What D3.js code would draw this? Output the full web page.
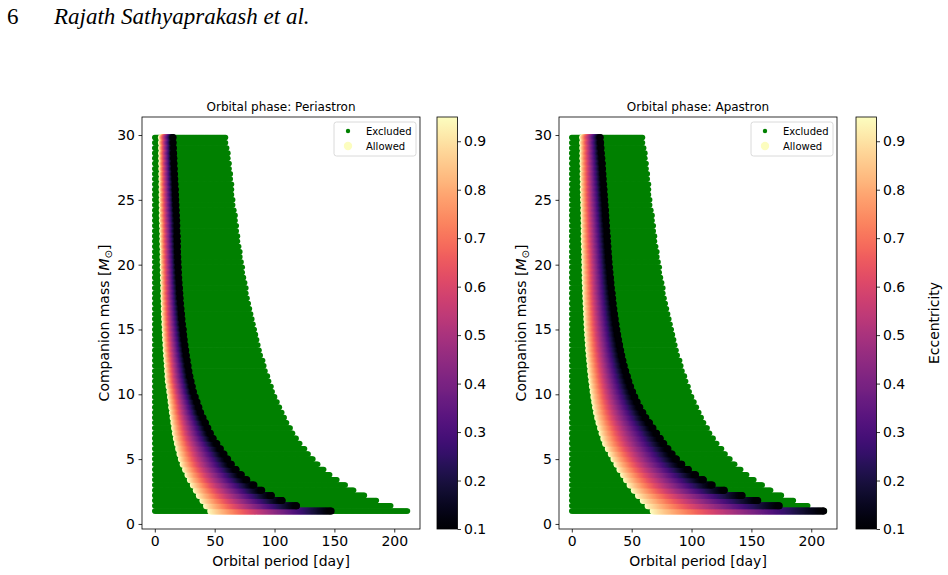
<!DOCTYPE html>
<html><head><meta charset="utf-8">
<script src="https://cdn.jsdelivr.net/npm/d3@7"></script>
<style>
body{margin:0;background:#fff}
svg{display:block}
text{font-family:"DejaVu Sans",sans-serif;fill:#000}
</style>
</head><body>
<svg id="chart" width="948" height="575"></svg>
<script>
// ---------------- data ----------------
const massRows = [1.0,1.4,1.8,2.2,2.6,3.0,3.4,3.8,4.2,4.6,5.0,5.4,5.8,6.2,6.6,7.0,7.4,7.8,8.2,8.6,
  9.0,9.4,9.8,10.2,10.6,11.0,11.4,11.8,12.2,12.6,13.0,13.4,13.8,14.2,14.6,15.0,15.4,15.8,16.2,16.6,
  17.0,17.4,17.8,18.2,18.6,19.0,19.4,19.8,20.2,20.6,21.0,21.4,21.8,22.2,22.6,23.0,23.4,23.8,24.2,24.6,
  25.0,25.4,25.8,26.2,26.6,27.0,27.4,27.8,28.2,28.6,29.0,29.4,29.8];

// longest orbital period (day) of the excluded grid in each mass row (both phases)
const excludedMax = [211,197,185,175,166,159,152,146,141,136,132,128,125,121,118,115,113,110,108,106,
  104,102,100,98,97,95,94,92,91,90,88,87,86,85,84,83,82,81,80,79,
  78,77,76,76,75,74,73,73,72,71,71,70,69,69,68,68,67,67,66,65,
  65,64,64,64,63,63,62,62,61,61,60,59,59];

// periastron: allowed period range per mass row (e = 0.95 at min, 0.1 at max)
const periAllowedMin = [46.7,43.2,40.2,37.2,34.7,32.2,29.7,27.7,25.7,23.7,22.2,21,19.9,18.9,18,17.2,16.5,15.9,15.3,14.7,
  14.1,13.6,13.1,12.5,11.9,11.3,11,10.7,10.4,10.1,9.8,9.5,9.3,9,8.8,8.6,8.4,8.2,8,7.9,
  7.8,7.6,7.5,7.4,7.3,7.2,7.1,7,6.9,6.8,6.8,6.7,6.6,6.6,6.5,6.4,6.3,6.2,6.2,6.1,
  6.1,6,6,5.9,5.9,5.8,5.8,5.7,5.7,5.6,5.6,5.5,5.5];
const periAllowedMax = [147.3,118.3,106.3,97.3,89.3,82.8,76.8,72.3,67.8,63.8,60.8,57.8,54.8,51.8,48.8,46.3,44.3,42.3,40.3,38.3,
  36.8,35.3,33.8,32.3,31.3,30.3,29.3,28.5,27.8,27.1,26.4,25.8,25.2,24.6,24.1,23.6,23.1,22.7,22.3,21.9,
  21.5,21.2,20.9,20.6,20.3,20,19.8,19.6,19.4,19.2,19,18.9,18.8,18.6,18.5,18.4,18.3,18.1,17.9,17.7,
  17.5,17.3,17.1,16.9,16.7,16.5,16.3,16.1,15.9,15.7,15.6,15.4,15.3];

// apastron: allowed period range per mass row
const apoAllowedMin = [68,63.7,59.7,55.7,52.2,48.7,45.7,43.2,40.2,37.7,35.2,33,30.5,28.2,26.7,25.3,24,22.7,21.6,20.6,
  19.8,19.1,18.4,17.8,17.2,16.7,16.2,15.7,15.3,14.9,14.5,14.1,13.8,13.5,13.2,12.9,12.7,12.5,12.3,12.1,
  11.9,11.7,11.5,11.4,11.2,11.1,11,10.9,10.8,10.7,10.6,10.5,10.4,10.3,10.3,10.2,10.2,10.1,10,9.9,
  9.8,9.7,9.6,9.6,9.5,9.4,9.4,9.3,9.2,9.2,9.1,9,9];
const apoAllowedMax = [210.3,173.3,155.3,142.3,127.3,117.3,109.8,103.3,97.3,91.8,87.3,83.8,80.3,76.8,73.8,70.8,67.8,64.8,61.8,59.3,
  56.8,54.6,52.6,50.8,49.1,47.6,46.3,45,43.8,42.7,41.7,40.8,39.9,39.1,38.3,37.6,36.9,36.3,35.7,35.1,
  34.6,34.1,33.6,33.1,32.7,32.3,31.9,31.5,31.1,30.8,30.5,30.2,29.9,29.6,29.3,29,28.7,28.4,28.1,27.8,
  27.5,27.2,26.9,26.6,26.3,26,25.7,25.4,25.1,24.7,24.4,24.1,23.8];

const eccRange = [0.1, 0.95];
const periodTicks = [0, 50, 100, 150, 200];
const massTicks = [0, 5, 10, 15, 20, 25, 30];
const eccTicks = [0.1, 0.2, 0.3, 0.4, 0.5, 0.6, 0.7, 0.8, 0.9];
const panelTitles = ["Orbital phase: Periastron", "Orbital phase: Apastron"];
const legendLabels = ["Excluded", "Allowed"];

// ---------------- drawing ----------------
const svg = d3.select("#chart");
const color = d3.scaleSequential(d3.interpolateMagma).domain(eccRange);
const GREEN = "#008000";

// page header
svg.append("text").attr("x", 7).attr("y", 24)
  .style("font-family", "'Liberation Serif','Times New Roman',serif").style("font-size", "23px")
  .text("6");
svg.append("text").attr("x", 54).attr("y", 24)
  .style("font-family", "'Liberation Serif','Times New Roman',serif").style("font-size", "23px")
  .style("font-style", "italic").text("Rajath Sathyaprakash et al.");

// gradient for colorbars
const defs = svg.append("defs");
const grad = defs.append("linearGradient").attr("id", "magmaGrad")
  .attr("x1", 0).attr("y1", 1).attr("x2", 0).attr("y2", 0);
d3.range(0, 1.0001, 0.02).forEach(t => grad.append("stop")
  .attr("offset", t).attr("stop-color", d3.interpolateMagma(t)));

const yTop = 117, yBot = 529;
const panels = [
  {x0: 142, x1: 420, cb: 437, title: panelTitles[0], lo: periAllowedMin, hi: periAllowedMax, cbLabel: false},
  {x0: 559, x1: 837, cb: 856, title: panelTitles[1], lo: apoAllowedMin, hi: apoAllowedMax, cbLabel: true}
];

panels.forEach(P => {
  const x = d3.scaleLinear().domain([-10.7, 221.5]).range([P.x0, P.x1]);
  const y = d3.scaleLinear().domain([-0.39, 31.39]).range([yBot, yTop]);
  const g = svg.append("g");

  // excluded grid
  const excl = [];
  massRows.forEach((m, i) => {
    d3.range(0, excludedMax[i] + 0.001, 1).forEach(p => excl.push({p, m}));
  });
  g.append("g").selectAll("circle").data(excl).join("circle")
    .attr("cx", d => x(d.p)).attr("cy", d => y(d.m)).attr("r", 2.8)
    .attr("fill", GREEN);

  // allowed grid: eccentricity falls from 0.95 to 0.1 across each row's allowed range
  const allow = [];
  massRows.forEach((m, i) => {
    const lo = P.lo[i], hi = P.hi[i];
    const ps = d3.range(lo, hi, 1).concat([hi]);
    ps.forEach(p => {
      const f = Math.pow((p - lo) / (hi - lo), 0.85);
      allow.push({p, m, e: eccRange[1] - f * (eccRange[1] - eccRange[0])});
    });
  });
  allow.sort((a, b) => b.e - a.e);
  g.append("g").selectAll("circle").data(allow).join("circle")
    .attr("cx", d => x(d.p)).attr("cy", d => y(d.m)).attr("r", 3.5)
    .attr("fill", d => color(d.e));

  // frame
  g.append("rect").attr("x", P.x0).attr("y", yTop).attr("width", P.x1 - P.x0).attr("height", yBot - yTop)
    .attr("fill", "none").attr("stroke", "#000").attr("stroke-width", 0.8);

  // x axis
  const xa = g.append("g").attr("transform", `translate(0,${yBot})`)
    .call(d3.axisBottom(x).tickValues(periodTicks).tickFormat(d3.format("d")).tickSize(3.5).tickPadding(3.5));
  xa.select(".domain").remove();
  xa.selectAll("line").attr("stroke", "#000").attr("stroke-width", 0.8);
  xa.selectAll("text").style("font-size", "14px").style("font-family", "'DejaVu Sans',sans-serif");

  // y axis
  const ya = g.append("g").attr("transform", `translate(${P.x0},0)`)
    .call(d3.axisLeft(y).tickValues(massTicks).tickFormat(d3.format("d")).tickSize(3.5).tickPadding(3.5));
  ya.select(".domain").remove();
  ya.selectAll("line").attr("stroke", "#000").attr("stroke-width", 0.8);
  ya.selectAll("text").style("font-size", "14px").style("font-family", "'DejaVu Sans',sans-serif");

  // labels
  g.append("text").attr("x", (P.x0 + P.x1) / 2).attr("y", 566).attr("text-anchor", "middle")
    .style("font-size", "14px").text("Orbital period [day]");
  const yl = g.append("text").attr("transform", `translate(${P.x0 - 33},${(yTop + yBot) / 2}) rotate(-90)`)
    .attr("text-anchor", "middle").style("font-size", "14px");
  yl.append("tspan").text("Companion mass [");
  yl.append("tspan").style("font-style", "italic").text("M");
  yl.append("tspan").attr("dy", 3).style("font-size", "10px").text("⊙");
  yl.append("tspan").attr("dy", -3).text("]");

  g.append("text").attr("x", (P.x0 + P.x1) / 2).attr("y", 111).attr("text-anchor", "middle")
    .style("font-size", "12px").text(P.title);

  // legend
  const lx = P.x1 - 86, ly = yTop + 5;
  const lg = g.append("g");
  lg.append("rect").attr("x", lx).attr("y", ly).attr("width", 82).attr("height", 34).attr("rx", 2.5)
    .attr("fill", "#fff").attr("fill-opacity", 0.8).attr("stroke", "#d0d0d0").attr("stroke-width", 0.8);
  lg.append("circle").attr("cx", lx + 14).attr("cy", ly + 9).attr("r", 2.2).attr("fill", GREEN);
  lg.append("circle").attr("cx", lx + 14).attr("cy", ly + 24).attr("r", 4.2).attr("fill", color(eccRange[1]));
  legendLabels.forEach((t, i) => lg.append("text").attr("x", lx + 32).attr("y", ly + 12.5 + i * 15)
    .style("font-size", "10px").text(t));

  // colorbar
  const cy = d3.scaleLinear().domain(eccRange).range([yBot, yTop]);
  const cw = 20.5;
  g.append("rect").attr("x", P.cb).attr("y", yTop).attr("width", cw).attr("height", yBot - yTop)
    .attr("fill", "url(#magmaGrad)").attr("stroke", "#000").attr("stroke-width", 0.8);
  const ca = g.append("g").attr("transform", `translate(${P.cb + cw},0)`)
    .call(d3.axisRight(cy).tickValues(eccTicks).tickFormat(d3.format(".1f")).tickSize(3.5).tickPadding(3));
  ca.select(".domain").remove();
  ca.selectAll("line").attr("stroke", "#000").attr("stroke-width", 0.8);
  ca.selectAll("text").style("font-size", "14px").style("font-family", "'DejaVu Sans',sans-serif");
  if (P.cbLabel) {
    g.append("text").attr("transform", `translate(939,${(yTop + yBot) / 2}) rotate(-90)`)
      .attr("text-anchor", "middle").style("font-size", "14px").text("Eccentricity");
  }
});
</script>
</body></html>
